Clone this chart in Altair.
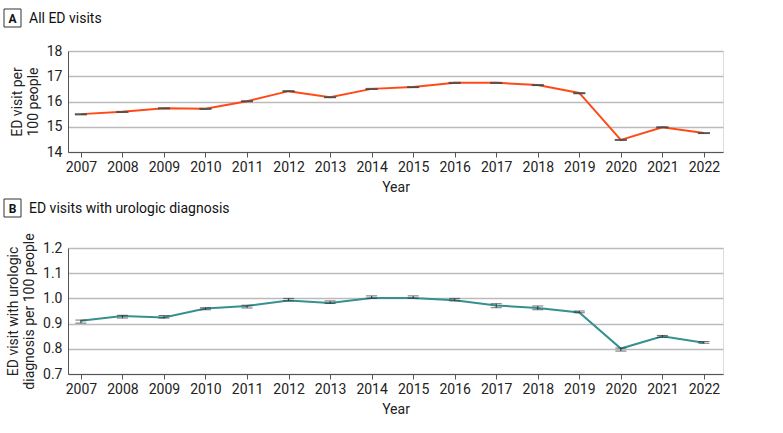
import altair as alt
import pandas as pd

years = list(range(2007, 2023))

# Panel A: all ED visits per 100 people
all_ed = [15.50, 15.59, 15.73, 15.71, 16.01, 16.41, 16.17, 16.50, 16.57, 16.74,
          16.74, 16.65, 16.34, 14.48, 14.98, 14.75]
all_ed_lo = [15.48, 15.58, 15.72, 15.70, 16.00, 16.40, 16.16, 16.49, 16.56, 16.73,
             16.73, 16.64, 16.32, 14.47, 14.97, 14.74]
all_ed_hi = [15.51, 15.60, 15.74, 15.72, 16.02, 16.42, 16.18, 16.51, 16.58, 16.75,
             16.75, 16.66, 16.35, 14.49, 14.99, 14.76]

# Panel B: ED visits with urologic diagnosis per 100 people
uro = [0.911, 0.930, 0.924, 0.960, 0.970, 0.992, 0.982, 1.002, 1.002, 0.993,
       0.972, 0.962, 0.944, 0.801, 0.850, 0.824]
uro_lo = [0.902, 0.922, 0.922, 0.955, 0.962, 0.990, 0.980, 1.000, 1.000, 0.990,
          0.963, 0.955, 0.943, 0.791, 0.845, 0.822]
uro_hi = [0.914, 0.933, 0.932, 0.963, 0.973, 1.000, 0.990, 1.010, 1.010, 1.000,
          0.979, 0.970, 0.950, 0.803, 0.853, 0.829]

ticksA = [14, 15, 16, 17, 18]
ticksB = [0.7, 0.8, 0.9, 1.0, 1.1, 1.2]

titles = ["All ED visits", "ED visits with urologic diagnosis"]
letters = ["A", "B"]
ytitles = [["ED visit per", "100 people"],
           ["ED visit with urologic", "diagnosis per 100 people"]]

FONT = "Roboto"
W = 655

dfA = pd.DataFrame({"year": years, "v": all_ed, "lo": all_ed_lo, "hi": all_ed_hi})
dfB = pd.DataFrame({"year": years, "v": uro, "lo": uro_lo, "hi": uro_hi})

xscale = alt.Scale(domain=[2006.69, 2022.46], nice=False, zero=False)


def xaxis():
    return alt.Axis(values=years, format="d", title="Year", grid=False,
                    domainColor="#555555", tickColor="#555555", tickSize=5,
                    labelFontSize=14, labelColor="#222222", labelPadding=3,
                    labelOverlap=False,
                    titleFontSize=14, titleFontWeight="normal", titleColor="#222222",
                    titlePadding=6, labelFont=FONT, titleFont=FONT)


def panel(df, ticks, fmt, ytitle, color, height, letter, title, box_y, caps_only):
    ysc = alt.Scale(domain=[ticks[0], ticks[-1]], nice=False, zero=False)

    def yaxis():
        return alt.Axis(values=ticks, format=fmt, labelOverlap=False, tickCount=len(ticks),
                        title=ytitle, grid=True, gridColor="#BBBBBB", gridWidth=1.5,
                        domainColor="#555555", ticks=False, labelPadding=6,
                        labelFontSize=14, labelColor="#222222",
                        titleFontSize=14, titleFontWeight="normal", titleColor="#222222",
                        titlePadding=6, labelFont=FONT, titleFont=FONT)

    def X():
        return alt.X("year:Q", scale=xscale, axis=xaxis())

    def Y(f):
        return alt.Y(f + ":Q", scale=ysc, axis=yaxis())

    base = alt.Chart(df)
    line = base.mark_line(color=color, strokeWidth=2).encode(x=X(), y=Y("v"))
    layers = [line]
    if caps_only:
        layers.append(base.mark_tick(orient="horizontal", color="#333333", size=12,
                                     thickness=1.5, opacity=0.8).encode(x=X(), y=Y("lo")))
        layers.append(base.mark_tick(orient="horizontal", color="#555555", size=12,
                                     thickness=1.5, opacity=0.8).encode(x=X(), y=Y("hi")))
    else:
        layers.append(base.mark_rule(color="#333333", strokeWidth=1).encode(
            x=X(), y=Y("lo"), y2="hi:Q"))
        layers.append(base.mark_tick(orient="horizontal", color="#333333", size=11,
                                     thickness=1).encode(x=X(), y=Y("lo")))
        layers.append(base.mark_tick(orient="horizontal", color="#333333", size=11,
                                     thickness=1).encode(x=X(), y=Y("hi")))
    tdf = pd.DataFrame({"letter": [letter], "title": [title]})
    tb = alt.Chart(tdf)
    layers.append(tb.mark_rect(fill="white", stroke="#333333", strokeWidth=1).encode(
        x=alt.value(-64), x2=alt.value(-47), y=alt.value(box_y), y2=alt.value(box_y + 18)))
    layers.append(tb.mark_text(font=FONT, fontSize=12, fontWeight="bold", color="#111111",
                               align="center", baseline="middle").encode(
        x=alt.value(-55.5), y=alt.value(box_y + 9.5), text="letter:N"))
    layers.append(tb.mark_text(font=FONT, fontSize=14, color="#111111",
                               align="left", baseline="middle").encode(
        x=alt.value(-39), y=alt.value(box_y + 9.5), text="title:N"))
    return alt.layer(*layers).properties(width=W, height=height)


top = panel(dfA, ticksA, ".0f", ytitles[0], "#FF4A17", 101, letters[0], titles[0], -42, True)
bottom = panel(dfB, ticksB, ".1f", ytitles[1], "#35908F", 126, letters[1], titles[1], -49, False)

chart = alt.vconcat(top, bottom, spacing=96, bounds="flush").properties(
    padding={"left": 3, "top": 8, "right": 5, "bottom": 5}
).configure_view(stroke=None).configure(background="white")

chart.save("out.html", embed_options={"renderer": "svg", "actions": False})
